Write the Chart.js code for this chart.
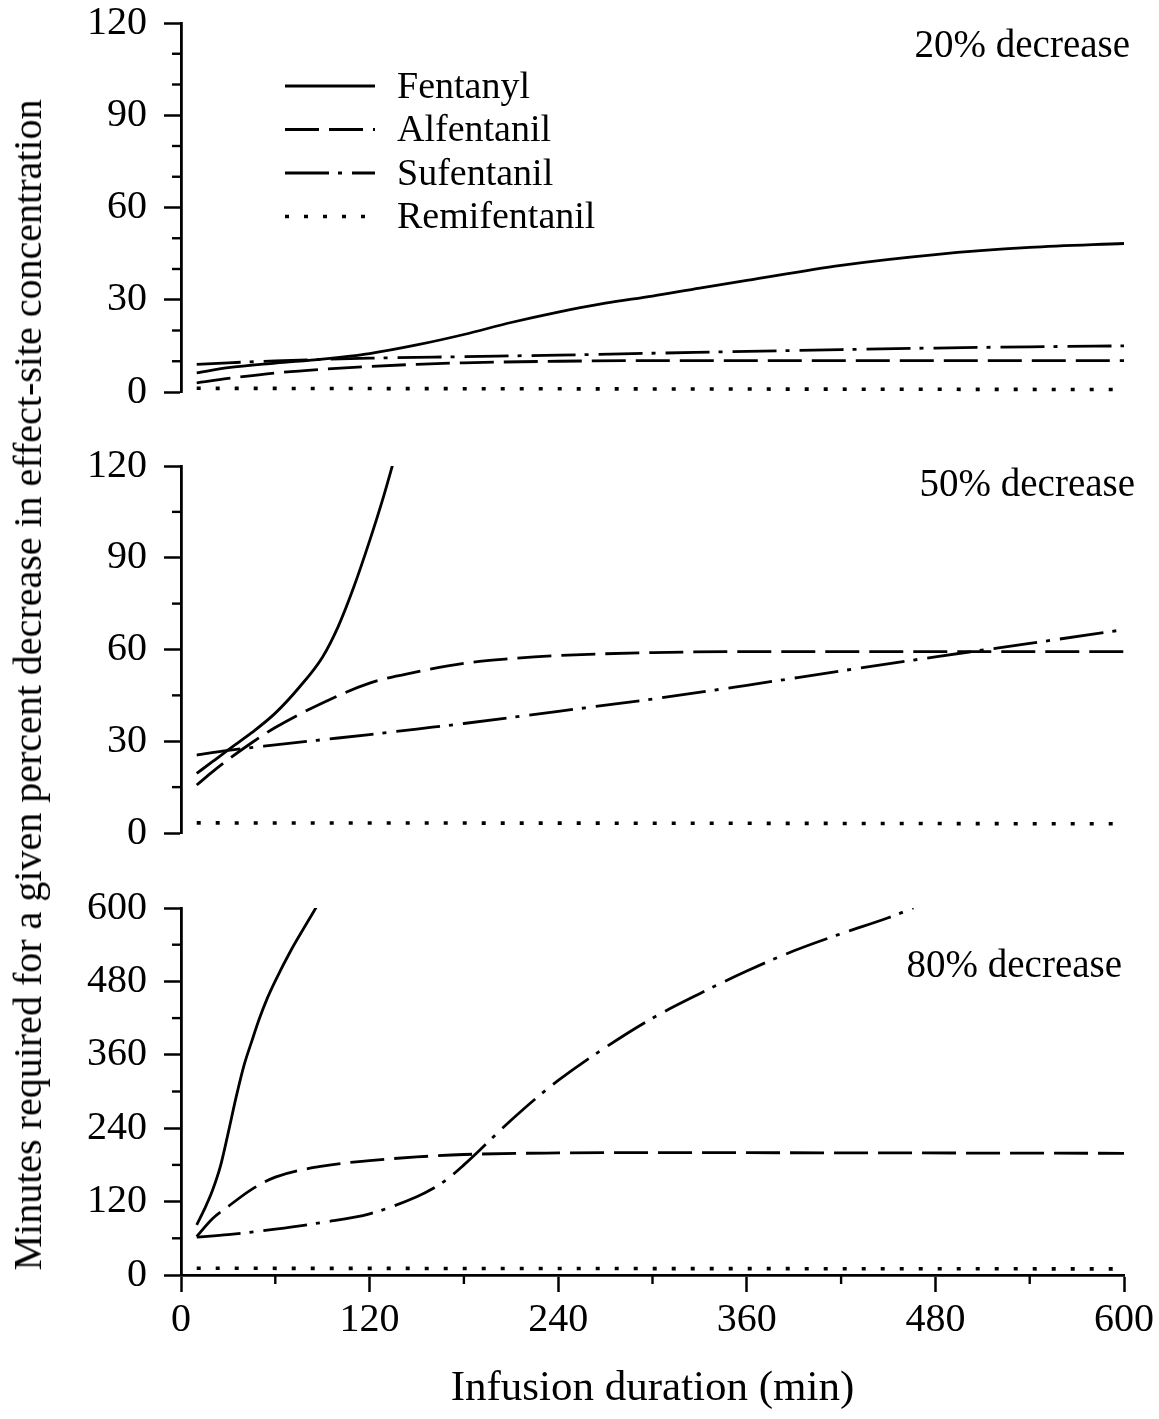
<!DOCTYPE html>
<html>
<head>
<meta charset="utf-8">
<script src="https://cdn.jsdelivr.net/npm/chart.js@4.4.1/dist/chart.umd.min.js"></script>
<style>
html,body{margin:0;padding:0;background:#fff;}
#wrap{position:relative;width:1159px;height:1419px;overflow:hidden;background:#fff;}
canvas{position:absolute;left:0;display:block;}
#ytitle{position:absolute;left:28px;top:685px;transform:translate(-50%,-50%) rotate(-90deg);white-space:nowrap;font-family:"Liberation Serif",serif;font-size:40px;line-height:46px;color:#000;}
</style>
</head>
<body>
<div id="wrap">
<canvas id="c1" width="1159" height="417" style="top:0px"></canvas>
<canvas id="c2" width="1159" height="418" style="top:440px"></canvas>
<canvas id="c3" width="1159" height="539" style="top:880px"></canvas>
<div id="ytitle">Minutes required for a given percent decrease in effect-site concentration</div>
</div>
<script>
// ---------- labels & ticks ----------
const drugNames = ['Fentanyl', 'Alfentanil', 'Sufentanil', 'Remifentanil'];
const panelTitles = ['20% decrease', '50% decrease', '80% decrease'];
const xTitle = 'Infusion duration (min)';
const xTicks = [0, 120, 240, 360, 480, 600];
const xMinorTicks = [60, 180, 300, 420, 540];
const yTicksTop = [0, 30, 60, 90, 120];
const yMinorTop = [10, 20, 40, 50, 70, 80, 100, 110];
const yTicksMid = [0, 30, 60, 90, 120];
const yMinorMid = [15, 45, 75, 105];
const yTicksBot = [0, 120, 240, 360, 480, 600];
const yMinorBot = [60, 180, 300, 420, 540];

// ---------- 20% decrease ----------
const fen20T = [10, 30, 60, 90, 120, 150, 180, 210, 240, 270, 300, 330, 360, 420, 480, 540, 600];
const fen20V = [6.2, 7.9, 9.4, 10.7, 12.5, 15.3, 18.7, 22.6, 26.0, 28.9, 31.2, 33.8, 36.3, 41.2, 44.7, 47.0, 48.3];
const alf20T = [10, 30, 60, 90, 120, 150, 180, 240, 300, 420, 600];
const alf20V = [3.0, 4.4, 6.2, 7.4, 8.3, 9.0, 9.5, 10.0, 10.2, 10.2, 10.2];
const suf20T = [10, 30, 60, 90, 120, 180, 240, 300, 360, 420, 480, 540, 600];
const suf20V = [9.0, 9.5, 10.1, 10.6, 11.0, 11.5, 12.0, 12.6, 13.2, 13.8, 14.3, 14.7, 15.0];
const rem20T = [10, 150, 300, 450, 600];
const rem20V = [1.2, 1.1, 1.0, 0.9, 0.8];

// ---------- 50% decrease ----------
const fen50T = [10, 20, 30, 45, 60, 75, 90, 100, 110, 120, 128, 135];
const fen50V = [19.5, 23.3, 27.2, 32.8, 39.2, 47.5, 57.5, 67.5, 80.5, 95.5, 108.5, 121];
const alf50T = [10, 20, 30, 45, 60, 90, 120, 150, 180, 210, 240, 300, 360, 600];
const alf50V = [15.7, 20, 24, 29.5, 34.5, 42.5, 49, 52.7, 55.5, 57, 58, 59, 59.3, 59.3];
const suf50T = [10, 30, 60, 90, 120, 150, 180, 240, 300, 360, 420, 480, 540, 600];
const suf50V = [25.5, 27, 28.8, 30.5, 32.2, 34, 35.8, 39.8, 43.8, 48.3, 53, 57.6, 62, 66.5];
const rem50T = [10, 300, 600];
const rem50V = [3.3, 3.2, 3.0];

// ---------- 80% decrease ----------
const fen80T = [10, 15, 20, 25, 30, 35, 40, 45, 50, 55, 60, 70, 80, 86];
const fen80V = [82, 108, 138, 177, 232, 290, 342, 382, 420, 453, 481, 531, 575, 601];
const alf80T = [10, 20, 30, 45, 60, 90, 120, 150, 180, 240, 300, 600];
const alf80V = [63, 92, 112, 140, 160, 178, 187, 193, 197, 199.5, 200, 199];
const suf80T = [10, 30, 60, 90, 120, 150, 160, 170, 180, 190, 200, 210, 225, 240, 270, 300, 330, 360, 390, 420, 450, 466];
const suf80V = [62, 66, 75, 86, 100, 128, 141, 158, 180, 204, 229, 253, 287, 318, 372, 420, 460, 497, 530, 558, 584, 600];
const rem80T = [10, 300, 600];
const rem80V = [11, 10.5, 10];

// ---------- styles ----------
const FONT = '"Liberation Serif", "Times New Roman", serif';
const lineStyles = [
  { borderDash: [], borderWidth: 2.8 },
  { borderDash: [34, 10], borderWidth: 2.8 },
  { borderDash: [44, 9, 4, 10], borderWidth: 2.8 },
  { borderDash: [4, 15], borderWidth: 3.6 }
];

function makeDatasets(pairs) {
  return pairs.map((p, i) => ({
    label: drugNames[i],
    data: p[0].map((t, j) => ({ x: t, y: p[1][j] })),
    borderColor: '#000',
    backgroundColor: '#000',
    borderWidth: lineStyles[i].borderWidth,
    borderDash: lineStyles[i].borderDash,
    borderCapStyle: 'butt',
    pointRadius: 0,
    fill: false,
    cubicInterpolationMode: 'monotone'
  }));
}

const decor = {
  id: 'decor',
  afterDraw(chart, args, o) {
    const ctx = chart.ctx;
    const ca = chart.chartArea;
    ctx.save();
    ctx.strokeStyle = '#000';
    ctx.fillStyle = '#000';
    ctx.lineWidth = 2.4;
    const ys = chart.scales.y;
    (o.minorY || []).forEach(v => {
      const y = ys.getPixelForValue(v);
      ctx.beginPath(); ctx.moveTo(ca.left - 9, y); ctx.lineTo(ca.left, y); ctx.stroke();
    });
    if (o.minorX) {
      const xs = chart.scales.x;
      o.minorX.forEach(v => {
        const x = xs.getPixelForValue(v);
        ctx.beginPath(); ctx.moveTo(x, ca.bottom); ctx.lineTo(x, ca.bottom + 9); ctx.stroke();
      });
    }
    if (o.label) {
      ctx.font = '39px ' + FONT;
      ctx.textAlign = 'right';
      ctx.textBaseline = 'middle';
      ctx.fillText(o.label, ca.right + o.dx, ca.top + o.dy);
    }
    if (o.legend) {
      const L = o.legend;
      chart.data.datasets.forEach((ds, i) => {
        const y = L.y + i * L.step;
        ctx.save();
        ctx.lineWidth = ds.borderWidth;
        ctx.setLineDash(ds.borderDash || []);
        ctx.beginPath(); ctx.moveTo(L.x0, y); ctx.lineTo(L.x1, y); ctx.stroke();
        ctx.restore();
        ctx.font = '38px ' + FONT;
        ctx.textAlign = 'left';
        ctx.textBaseline = 'middle';
        ctx.fillText(ds.label, L.tx, y + 2);
      });
    }
    ctx.restore();
  }
};

function yAxis(max, ticksArr) {
  return {
    type: 'linear', min: 0, max: max,
    afterBuildTicks: s => { s.ticks = ticksArr.map(v => ({ value: v })); },
    afterFit: s => { s.width = 181; s.paddingTop = 0; s.paddingBottom = 0; },
    grid: { drawOnChartArea: false, drawTicks: true, tickLength: 17, tickWidth: 2.5, tickColor: '#000' },
    border: { display: true, color: '#000', width: 2.8 },
    ticks: { font: { family: FONT, size: 40 }, color: '#000', padding: 17, autoSkip: false }
  };
}

function makeChart(id, pairs, yMax, yTicks, decorOpts, bottom, padding) {
  const xScale = bottom ? {
    type: 'linear', min: 0, max: 600,
    afterBuildTicks: s => { s.ticks = xTicks.map(v => ({ value: v })); },
    afterFit: s => { s.height = 144; s.paddingLeft = 0; s.paddingRight = 0; },
    grid: { drawOnChartArea: false, drawTicks: true, tickLength: 17, tickWidth: 2.5, tickColor: '#000' },
    border: { display: true, color: '#000', width: 2.8 },
    ticks: { font: { family: FONT, size: 40 }, color: '#000', padding: 4, maxRotation: 0, autoSkip: false },
    title: { display: true, text: xTitle, font: { family: FONT, size: 43 }, color: '#000', padding: { top: 0, bottom: 4 } }
  } : { type: 'linear', min: 0, max: 600, display: false };
  return new Chart(document.getElementById(id), {
    type: 'line',
    data: { datasets: makeDatasets(pairs) },
    options: {
      responsive: false,
      animation: false,
      devicePixelRatio: 1,
      layout: { padding: padding },
      scales: { x: xScale, y: yAxis(yMax, yTicks) },
      plugins: { legend: { display: false }, tooltip: { enabled: false }, decor: decorOpts }
    },
    plugins: [decor]
  });
}

makeChart('c1',
  [[fen20T, fen20V], [alf20T, alf20V], [suf20T, suf20V], [rem20T, rem20V]],
  120, yTicksTop,
  { minorY: yMinorTop, label: panelTitles[0], dx: 6, dy: 24,
    legend: { x0: 285, x1: 375, tx: 397, y: 86, step: 43.5 } },
  false, { top: 23, bottom: 25, left: 0, right: 35 });

makeChart('c2',
  [[fen50T, fen50V], [alf50T, alf50V], [suf50T, suf50V], [rem50T, rem50V]],
  120, yTicksMid,
  { minorY: yMinorMid, label: panelTitles[1], dx: 11, dy: 20 },
  false, { top: 26, bottom: 25, left: 0, right: 35 });

makeChart('c3',
  [[fen80T, fen80V], [alf80T, alf80V], [suf80T, suf80V], [rem80T, rem80V]],
  600, yTicksBot,
  { minorY: yMinorBot, minorX: xMinorTicks, label: panelTitles[2], dx: -2, dy: 59 },
  true, { top: 28, bottom: 0, left: 0, right: 35 });
</script>
</body>
</html>
